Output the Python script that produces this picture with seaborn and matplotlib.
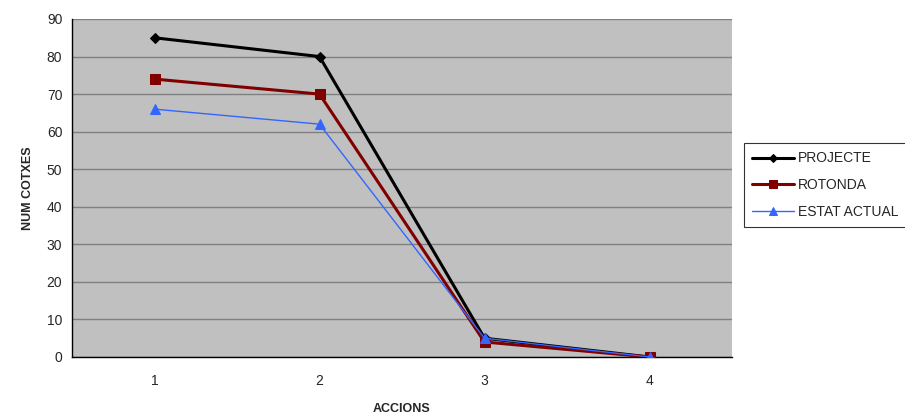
import numpy as np
import pandas as pd
import seaborn as sns
import matplotlib.pyplot as plt
from matplotlib.ticker import FixedLocator, NullFormatter

# dades
ACCIONS = [1, 2, 3, 4]
PROJECTE = [85, 80, 5, 0]
ROTONDA = [74, 70, 4, 0]
ESTAT_ACTUAL = [66, 62, 5, 0]
SERIES = ["PROJECTE", "ROTONDA", "ESTAT ACTUAL"]

df = pd.DataFrame({
    "ACCIONS": ACCIONS * 3,
    "NUM COTXES": PROJECTE + ROTONDA + ESTAT_ACTUAL,
    "serie": [s for s in SERIES for _ in ACCIONS],
})

sns.set_style("white")
plt.rcParams["font.family"] = ["Liberation Sans", "DejaVu Sans"]

fig = plt.figure(figsize=(9.05, 4.17), dpi=100)
ax = fig.add_axes([72 / 905, 60 / 417, 660 / 905, 338 / 417])
ax.set_facecolor("#C0C0C0")

estils = {
    "PROJECTE": dict(color="black", marker="D", lw=2.2, ms=5),
    "ROTONDA": dict(color="#800000", marker="s", lw=2.2, ms=7),
    "ESTAT ACTUAL": dict(color="#3366FF", marker="^", lw=1.0, ms=7),
}
for s in SERIES:
    e = estils[s]
    sub = df[df["serie"] == s]
    sns.lineplot(data=sub, x="ACCIONS", y="NUM COTXES", ax=ax, label=s,
                 color=e["color"], marker=e["marker"], linewidth=e["lw"],
                 markersize=e["ms"], markeredgecolor=e["color"], zorder=3)

ax.set_xlim(0.5, 4.5)
ax.set_ylim(0, 90)
ax.set_yticks(np.arange(0, 91, 10))
ax.yaxis.grid(True, color="#808080", linewidth=1)
ax.set_axisbelow(True)

ax.set_xticks(ACCIONS)
ax.set_xticklabels([str(a) for a in ACCIONS])
ax.xaxis.set_minor_locator(FixedLocator([0.5, 1.5, 2.5, 3.5, 4.5]))
ax.xaxis.set_minor_formatter(NullFormatter())
ax.tick_params(axis="x", which="major", length=0, pad=12, labelsize=10)
ax.tick_params(axis="x", which="minor", length=5, width=1, direction="out", color="black")
ax.tick_params(axis="y", length=5, width=1, direction="out", color="black", labelsize=10, pad=2)

for sp in ["top", "right"]:
    ax.spines[sp].set_visible(False)
for sp in ["left", "bottom"]:
    ax.spines[sp].set_color("black")
    ax.spines[sp].set_linewidth(1)

ax.set_xlabel("ACCIONS", fontsize=9, fontweight="bold", labelpad=11)
ax.set_ylabel("NUM COTXES", fontsize=9, fontweight="bold", labelpad=9)

# llegenda a la dreta, fora del gràfic
leg = ax.legend(loc="center left", bbox_to_anchor=(744 / 905, 232 / 417), bbox_transform=fig.transFigure,
                frameon=True, fancybox=False, edgecolor="black", fontsize=10,
                handlelength=3.0, borderpad=0.6, labelspacing=0.9, handletextpad=0.3,
                markerscale=0.8, borderaxespad=0)
leg.get_frame().set_linewidth(0.8)

fig.savefig("out.png", dpi=100)
